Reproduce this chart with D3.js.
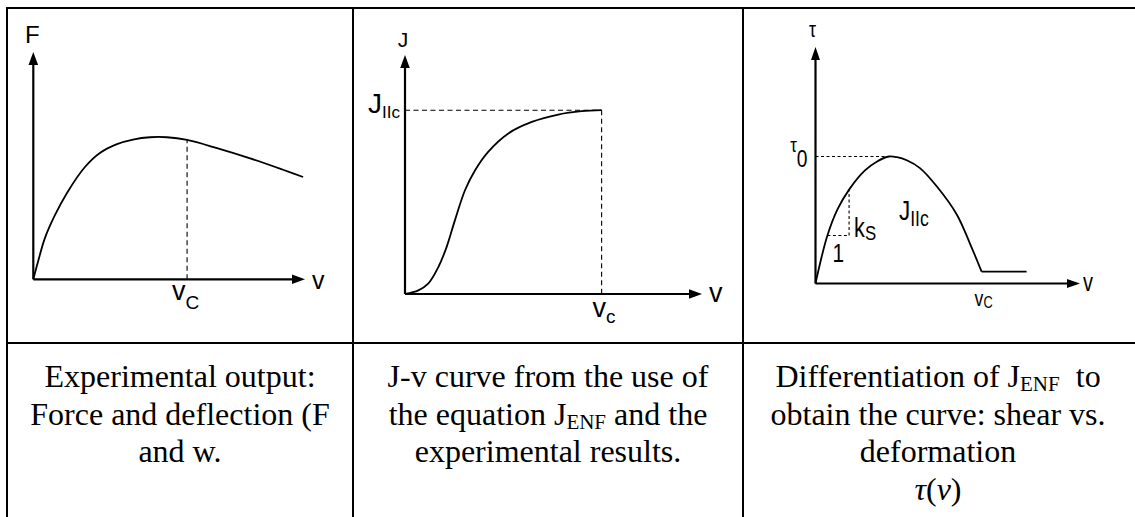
<!DOCTYPE html>
<html>
<head>
<meta charset="utf-8">
<script src="https://cdn.jsdelivr.net/npm/d3@7"></script>
<style>
  html, body { margin: 0; padding: 0; background: #fff; }
  svg { display: block; }
  .lbl { font-family: "Liberation Sans", Arial, sans-serif; fill: #000; }
  .cap { font-family: "Liberation Serif", "Times New Roman", serif; font-size: 32px; fill: #000; white-space: pre; }
</style>
</head>
<body>
<svg id="fig" width="1135" height="517"></svg>
<script>
// ---- Panel 1: force vs. deflection (arbitrary units) ----
const forceDefl = [0, 0.17, 0.43, 0.80, 1.24, 1.90, 2.45, 3.08, 3.67, 4.30, 4.92, 5.66, 6.76, 7.98, 9.19, 9.93];
const forceVal  = [0, 0.76, 1.82, 2.83, 3.80, 4.94, 5.56, 5.95, 6.15, 6.25, 6.25, 6.13, 5.77, 5.32, 4.82, 4.50];
const forceVc   = 5.66;

// ---- Panel 2: J-integral vs. slip ----
const jSlip = [0, 0.45, 0.78, 1.12, 1.40, 1.68, 2.02, 2.36, 2.80, 3.48, 4.27, 5.16, 5.95, 6.62];
const jVal  = [0, 0.15, 0.43, 1.12, 1.96, 3.08, 4.34, 5.18, 5.95, 6.72, 7.20, 7.51, 7.65, 7.69];
const jIIc  = 7.69;
const jVc   = 6.62;

// ---- Panel 3: shear stress vs. slip ----
const tauSlip = [0, 0.19, 0.45, 0.83, 1.27, 1.87, 2.33, 2.78, 3.08, 3.45, 3.95, 4.59, 5.34, 5.84, 6.28];
const tauVal  = [0, 0.93, 2.03, 3.13, 3.97, 4.78, 5.16, 5.37, 5.34, 5.21, 4.88, 4.10, 2.92, 1.69, 0.50];
const tailSlip = [6.28, 7.98];
const tailVal  = [0.50, 0.50];
const tau0Slip = 2.78;
const tau0     = 5.37;
const slopeSlip = [0.45, 1.27];
const slopeTau  = [2.03, 3.97];

// ---- Captions (segments: [text, style]) ----
const captionA = [
  [["Experimental output:"]],
  [["Force and deflection (F"]],
  [["and w."]]
];
const captionB = [
  [["J-v curve from the use of"]],
  [["the equation J"], ["ENF", "sub"], [" and the"]],
  [["experimental results."]]
];
const captionC = [
  [["Differentiation of J"], ["ENF", "sub"], ["  to"]],
  [["obtain the curve: shear vs."]],
  [["deformation"]],
  [["τ", "it"], ["("], ["v", "it"], [")"]]
];

const svg = d3.select("#fig");

// ---- table grid ----
const grid = svg.append("g").attr("stroke", "#000").attr("stroke-width", 2);
const tLeft = 7, tTop = 8, col1 = 353, col2 = 743, rowY = 343, W = 1135, H = 517;
grid.append("line").attr("x1", tLeft - 1).attr("x2", W).attr("y1", tTop).attr("y2", tTop);
grid.append("line").attr("x1", tLeft).attr("x2", tLeft).attr("y1", tTop - 1).attr("y2", H);
grid.append("line").attr("x1", col1).attr("x2", col1).attr("y1", tTop).attr("y2", H);
grid.append("line").attr("x1", col2).attr("x2", col2).attr("y1", tTop).attr("y2", H);
grid.append("line").attr("x1", tLeft).attr("x2", W).attr("y1", rowY).attr("y2", rowY);

// ---- helpers ----
function arrow(g, x1, y1, x2, y2, len, half) {
  const dx = x2 - x1, dy = y2 - y1, L = Math.hypot(dx, dy), ux = dx / L, uy = dy / L;
  const bx = x2 - ux * len, by = y2 - uy * len;
  g.append("line")
    .attr("x1", x1).attr("y1", y1).attr("x2", bx + ux * 2).attr("y2", by + uy * 2)
    .attr("stroke", "#000").attr("stroke-width", 2.2);
  g.append("path")
    .attr("d", `M${x2},${y2}L${bx - uy * half},${by + ux * half}L${bx + uy * half},${by - ux * half}Z`)
    .attr("fill", "#000");
}
function axes(g, x, y, len, half) {
  arrow(g, x(0), y(0), x(10), y(0), len, half);
  arrow(g, x(0), y(0), x(0), y(10), len, half);
}
function curve(g, xs, ys, x, y) {
  const pts = xs.map((v, i) => [v, ys[i]]);
  g.append("path")
    .datum(pts)
    .attr("fill", "none").attr("stroke", "#000").attr("stroke-width", 1.8)
    .attr("stroke-linejoin", "round")
    .attr("d", d3.line().x(d => x(d[0])).y(d => y(d[1])).curve(d3.curveCatmullRom.alpha(0.5)));
}
function dashed(g, x1, y1, x2, y2, dash) {
  g.append("line")
    .attr("x1", x1).attr("y1", y1).attr("x2", x2).attr("y2", y2)
    .attr("stroke", "#000").attr("stroke-width", 1.1).attr("stroke-dasharray", dash);
}
// text with optional subscript parts; sx squeezes the glyphs horizontally
function label(g, x, y, anchor, parts, sx = 1) {
  const t = g.append("text").attr("class", "lbl")
    .attr("transform", `translate(${x},${y}) scale(${sx},1)`)
    .attr("text-anchor", anchor);
  let shift = 0;
  parts.forEach(([txt, size, dy]) => {
    const d = (dy || 0) - shift;
    shift = dy || 0;
    t.append("tspan").attr("font-size", size).attr("dy", d).text(txt);
  });
  return t;
}

// ---- Panel 1 ----
{
  const g = svg.append("g");
  const x = d3.scaleLinear().domain([0, 10]).range([33.3, 305]);
  const y = d3.scaleLinear().domain([0, 10]).range([279.3, 52]);
  axes(g, x, y, 13, 4.8);
  const fc = d3.scaleLinear().domain(forceDefl).range(forceVal)(forceVc);
  dashed(g, x(forceVc), y(0), x(forceVc), y(fc), "5,3.5");
  curve(g, forceDefl, forceVal, x, y);
  label(g, x(0) - 1, y(10) - 9, "middle", [["F", 24]]);
  label(g, x(10) + 7, y(0) + 10, "start", [["v", 25]]);
  label(g, x(forceVc) - 15, y(0) + 21, "start", [["v", 27], ["C", 19, 9]]);
}

// ---- Panel 2 ----
{
  const g = svg.append("g");
  const x = d3.scaleLinear().domain([0, 10]).range([405, 702]);
  const y = d3.scaleLinear().domain([0, 10]).range([294, 55]);
  axes(g, x, y, 13, 4.8);
  dashed(g, x(0), y(jIIc), x(jVc), y(jIIc), "5,3.5");
  dashed(g, x(jVc), y(jIIc), x(jVc), y(0), "5,3.5");
  curve(g, jSlip, jVal, x, y);
  label(g, x(0) - 2, y(10) - 8, "middle", [["J", 21]]);
  label(g, x(10) + 7, y(0) + 8, "start", [["v", 27]]);
  label(g, x(jVc) - 9, y(0) + 23, "start", [["v", 27], ["c", 19, 6]]);
  label(g, x(0) - 5, y(jIIc) + 3, "end", [["J", 28], ["IIc", 17, 5]]);
}

// ---- Panel 3 ----
{
  const g = svg.append("g");
  const x = d3.scaleLinear().domain([0, 10]).range([815.5, 1080]);
  const y = d3.scaleLinear().domain([0, 10]).range([283.5, 47]);
  axes(g, x, y, 13, 4.5);
  dashed(g, x(0), y(tau0), x(tau0Slip), y(tau0), "3,2.5");
  dashed(g, x(slopeSlip[0]), y(slopeTau[0]), x(slopeSlip[1]), y(slopeTau[0]), "3,2.5");
  dashed(g, x(slopeSlip[1]), y(slopeTau[0]), x(slopeSlip[1]), y(slopeTau[1]), "3,2.5");
  curve(g, tauSlip, tauVal, x, y);
  curve(g, tailSlip, tailVal, x, y);
  const sq = 0.8;
  label(g, x(0) - 3, y(10) - 10, "middle", [["τ", 22]], sq);
  label(g, x(10) + 3, y(0) + 7, "start", [["v", 25]], sq);
  label(g, x(tailSlip[0]) - 7, y(0) + 22, "start", [["v", 22], ["C", 16, 2]], sq);
  label(g, x(0) - 8, y(tau0) - 4, "end", [["τ", 21], ["0", 24, 14]], sq);
  label(g, x(slopeSlip[1]) + 5, y(slopeTau[0]) + 2, "start", [["k", 27], ["S", 21, 3]], sq);
  label(g, (x(slopeSlip[0]) + x(slopeSlip[1])) / 2, y(slopeTau[0]) + 27, "middle", [["1", 26]], sq);
  label(g, x(tau0Slip) + 10, y(tau0) + 64, "start", [["J", 28], ["IIc", 22, 5]], sq);
}

// ---- captions ----
function caption(lines, cx) {
  const base = 387, lead = 37.6;
  lines.forEach((segs, i) => {
    const t = svg.append("text").attr("class", "cap")
      .attr("x", cx).attr("y", base + i * lead).attr("text-anchor", "middle");
    let sub = false;
    segs.forEach(([txt, style]) => {
      const s = t.append("tspan").text(txt);
      if (style === "sub") { s.attr("font-size", 21).attr("dy", 4); sub = true; }
      else if (sub) { s.attr("dy", -4); sub = false; }
      if (style === "it") s.attr("font-style", "italic");
    });
  });
}
caption(captionA, 180);
caption(captionB, 548);
caption(captionC, 938);
</script>
</body>
</html>
